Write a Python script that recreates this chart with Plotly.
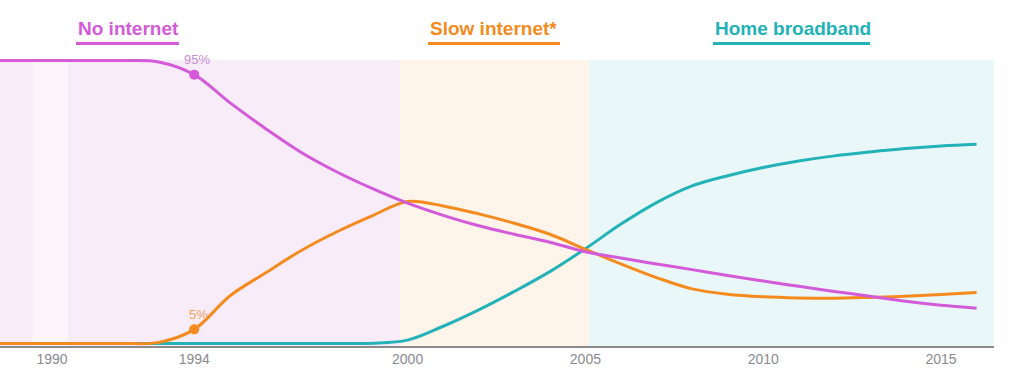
import plotly.graph_objects as go

# ---------------- data ----------------
years = list(range(1988, 2017))
no_internet = [100, 100, 100, 100, 100, 99.5,
               95.0, 85.1, 76.0, 67.6, 60.7, 54.8, 49.6, 45.3, 41.6, 38.6, 35.8,
               32.4, 30.2, 28.1, 26.1, 24.0, 22.1, 20.2, 18.4, 16.7, 14.9, 13.5, 12.5]
slow_internet = [0, 0, 0, 0, 0, 0.4,
                 5.0, 16.8, 24.9, 32.8, 39.4, 45.1, 50.2, 48.6, 45.8, 42.5, 38.6,
                 33.3, 28.1, 23.3, 19.3, 17.4, 16.5, 16.1, 16.0, 16.3, 16.7, 17.3, 18.0]
broadband = [0, 0, 0, 0, 0, 0, 0, 0, 0, 0, 0, 0.1,
             1.2, 6.1, 11.9, 18.4, 25.4, 33.5, 42.2, 49.8, 55.7, 59.3, 62.2,
             64.5, 66.3, 67.7, 68.9, 69.8, 70.4]

series_names = ["No internet", "Slow internet*", "Home broadband"]
highlight_year = 1994

tick_years = [1990, 1994, 2000, 2005, 2010, 2015]
tick_labels = ["1990", "1994", "2000", "2005", "2010", "2015"]

# era bands (start year, end year)
band_no = [1988.0, 1999.8]
band_stripe = [1989.45, 1990.45]
band_slow = [1999.8, 2005.1]
band_broad = [2005.1, 2016.6]

# ---------------- styles ----------------
PINK = "#d35bd9"
ORANGE = "#f58b1f"
TEAL = "#22b2b8"
PINK_LABEL = "#c98ad8"
ORANGE_LABEL = "#f5a15e"

x_range = [1988.538, 2016.49]
y_range = [-0.88, 101.59]

fig = go.Figure()

# bands
band_shapes = [
    (band_no, "#f9ecf9"),
    (band_stripe, "#fcf6fc"),
    (band_slow, "#fef4e9"),
    (band_broad, "#e9f7f8"),
]
for (x0, x1), col in band_shapes:
    fig.add_shape(type="rect", xref="x", yref="y", x0=x0, x1=x1,
                  y0=y_range[0], y1=100.2, fillcolor=col, line_width=0,
                  layer="below")

# lines (teal first, pink on top)
for vals, col in [(broadband, TEAL), (slow_internet, ORANGE), (no_internet, PINK)]:
    fig.add_trace(go.Scatter(
        x=years, y=vals, mode="lines",
        line=dict(color=col, width=3, shape="spline", smoothing=1.0),
        hoverinfo="skip", showlegend=False))

# highlighted points
idx = years.index(highlight_year)
for vals, col, lcol, xs in [(no_internet, PINK, PINK_LABEL, 3),
                             (slow_internet, ORANGE, ORANGE_LABEL, 4)]:
    fig.add_trace(go.Scatter(
        x=[highlight_year], y=[vals[idx]], mode="markers",
        marker=dict(color=col, size=10), hoverinfo="skip",
        showlegend=False, cliponaxis=False))
    fig.add_annotation(x=highlight_year, y=vals[idx], xref="x", yref="y",
                       text=f"{round(vals[idx])}%", showarrow=False,
                       xshift=xs, yshift=15,
                       font=dict(family="Liberation Sans", size=13, color=lcol))

# legend headings with underlines
plot_w = 994.0
plot_top = 56.0
plot_h = 290.0


def px_x(p):
    return p / plot_w


def px_y(p):
    return (plot_top + plot_h - p) / plot_h


legend_items = [
    (series_names[0], PINK, 76, 179),
    (series_names[1], ORANGE, 428, 560),
    (series_names[2], TEAL, 713, 870),
]
for name, col, x0, x1 in legend_items:
    fig.add_annotation(x=px_x(x0), y=px_y(28), xref="paper", yref="paper",
                       text=f"<b>{name}</b>", showarrow=False,
                       xanchor="left", yanchor="middle",
                       font=dict(family="Liberation Sans", size=19, color=col))
    fig.add_shape(type="line", xref="paper", yref="paper",
                  x0=px_x(x0), x1=px_x(x1), y0=px_y(43.5), y1=px_y(43.5),
                  line=dict(color=col, width=3))

fig.update_layout(
    width=1014, height=369,
    margin=dict(l=0, r=20, t=56, b=23),
    paper_bgcolor="white", plot_bgcolor="white",
    showlegend=False,
    hovermode=False,
    xaxis=dict(range=x_range, tickvals=tick_years, ticktext=tick_labels,
               showgrid=False, zeroline=False, showline=True,
               linecolor="#8a8a8a", linewidth=1.5, ticks="",
               tickfont=dict(family="Liberation Sans", size=14, color="#8a8a92")),
    yaxis=dict(range=y_range, visible=False, showgrid=False, zeroline=False),
)

fig.write_html("out.html",
               config={"displayModeBar": False, "staticPlot": True},
               post_script="document.body.style.margin='0';"
                           "document.body.style.overflow='hidden';")
